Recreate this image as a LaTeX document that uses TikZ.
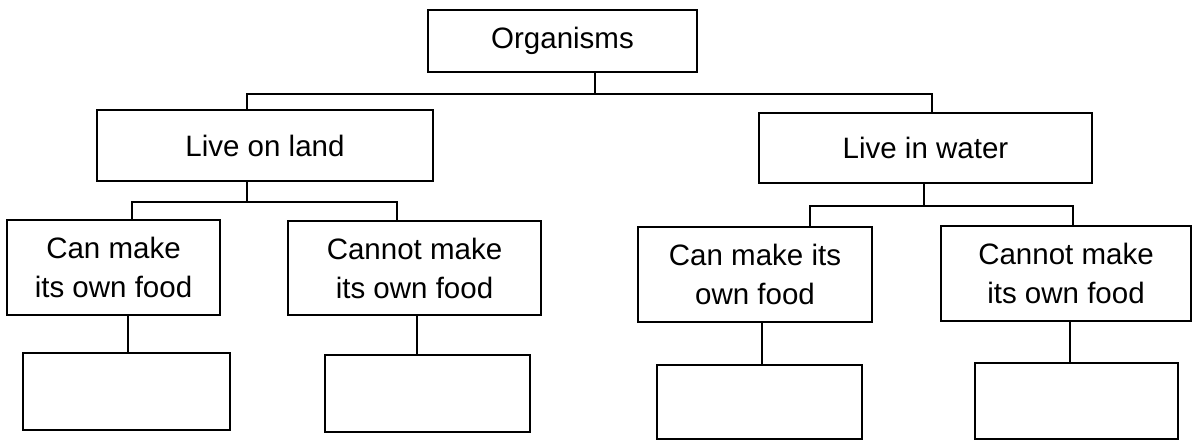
\documentclass[tikz,border=0pt]{standalone}
\usepackage{fontspec}
\setmainfont{Liberation Sans}
\begin{document}
\begin{tikzpicture}[x=0.5pt,y=-0.5pt,
  line width=1.2pt,
  box/.style={draw, rectangle, inner sep=0pt, align=center,
    font=\fontsize{14.75}{19.5}\selectfont},
  link/.style={draw, line cap=rect}]
\useasboundingbox (0,0) rectangle (1192,440);

% top level
\node[box, minimum width=134.5pt, minimum height=31pt] (org) at (562.5,41) {Organisms};

% second level
\node[box, minimum width=168pt, minimum height=35.5pt] (land) at (265,145.5) {Live on land};
\node[box, minimum width=166.5pt, minimum height=35pt] (water) at (925.5,148) {Live in water};

% third level
\node[box, minimum width=106.5pt, minimum height=47.5pt] (lc) at (113.5,267.5) {Can make\\its own food};
\node[box, minimum width=126.5pt, minimum height=47pt] (ln) at (414.5,268) {Cannot make\\its own food};
\node[box, minimum width=117pt, minimum height=47.5pt] (wc) at (755,274.5) {Can make its\\own food};
\node[box, minimum width=125pt, minimum height=47.5pt] (wn) at (1066,273.5) {Cannot make\\its own food};

% empty answer boxes
\node[box, minimum width=103.5pt, minimum height=38.5pt] (le1) at (126.5,391.5) {};
\node[box, minimum width=102.5pt, minimum height=38.5pt] (le2) at (427.5,393.5) {};
\node[box, minimum width=102.5pt, minimum height=37pt] (we1) at (759.5,402) {};
\node[box, minimum width=101.5pt, minimum height=38pt] (we2) at (1076.5,401) {};

% junction points
\coordinate (j0) at (595,94);
\coordinate (jl) at (247,94);
\coordinate (jw) at (932,94);
\coordinate (ls) at (247,202);
\coordinate (ls1) at (132,202);
\coordinate (ls2) at (397,202);
\coordinate (ws) at (924,206);
\coordinate (ws1) at (810,206);
\coordinate (ws2) at (1073,206);
\coordinate (d1) at (128,0);
\coordinate (d2) at (417,0);
\coordinate (d3) at (762,0);
\coordinate (d4) at (1070,0);

% first split
\draw[link] (org.south -| j0) -- (j0);
\draw[link] (land.north -| jl) -- (jl) -- (jw) -- (water.north -| jw);

% land split
\draw[link] (land.south -| ls) -- (ls);
\draw[link] (lc.north -| ls1) -- (ls1) -- (ls2) -- (ln.north -| ls2);

% water split
\draw[link] (water.south -| ws) -- (ws);
\draw[link] (wc.north -| ws1) -- (ws1) -- (ws2) -- (wn.north -| ws2);

% down to the empty boxes
\draw[link] (lc.south -| d1) -- (le1.north -| d1);
\draw[link] (ln.south -| d2) -- (le2.north -| d2);
\draw[link] (wc.south -| d3) -- (we1.north -| d3);
\draw[link] (wn.south -| d4) -- (we2.north -| d4);
\end{tikzpicture}
\end{document}
